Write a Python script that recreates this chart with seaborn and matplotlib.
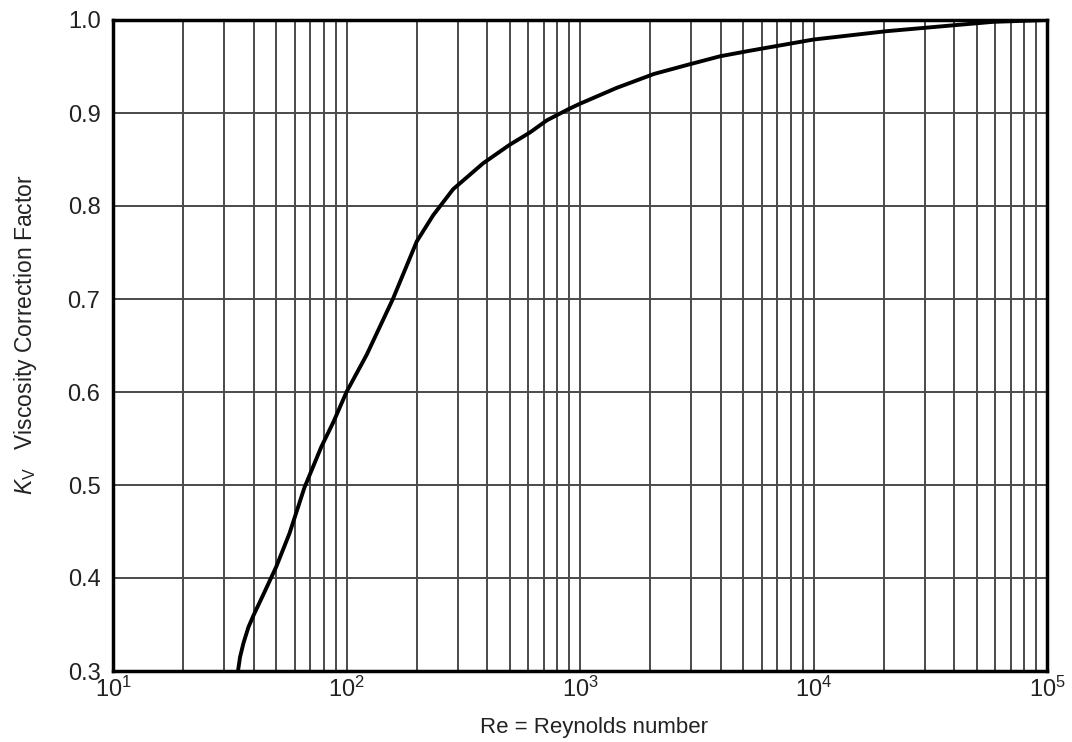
import numpy as np
import pandas as pd
import seaborn as sns
import matplotlib.pyplot as plt
from matplotlib.ticker import LogLocator, FixedLocator, NullFormatter

sns.set_theme(style='white')
plt.rcParams['font.family'] = ['Liberation Sans', 'DejaVu Sans']
plt.rcParams['mathtext.fontset'] = 'custom'
plt.rcParams['mathtext.rm'] = 'Liberation Sans'
plt.rcParams['mathtext.it'] = 'Liberation Sans:italic'

# values
reynolds = [34.3, 35.0, 36.2, 38, 40, 44, 50, 57, 66, 78, 88, 100, 122, 158,
            200, 235, 286, 385, 501, 610, 720, 890, 1000, 1435, 2075, 2910,
            3980, 5350, 10000, 20600, 38500, 58600, 100000]
kv = [0.300, 0.315, 0.330, 0.347, 0.360, 0.382, 0.412, 0.448, 0.497, 0.541,
      0.568, 0.600, 0.640, 0.700, 0.762, 0.790, 0.818, 0.846, 0.866, 0.879,
      0.892, 0.904, 0.910, 0.927, 0.942, 0.952, 0.961, 0.967, 0.979, 0.988,
      0.994, 0.998, 1.000]
y_ticks = [0.3, 0.4, 0.5, 0.6, 0.7, 0.8, 0.9, 1.0]

df = pd.DataFrame({'Re': reynolds, 'Kv': kv})

fig = plt.figure(figsize=(10.72, 7.42), dpi=100)
ax = fig.add_axes([113/1072, 1-671/742, (1047-113)/1072, (671-20)/742])

ax.set_xscale('log')
ax.set_xlim(10, 1e5)
ax.set_ylim(0.3, 1.0)

ax.xaxis.set_major_locator(LogLocator(base=10, numticks=10))
ax.xaxis.set_minor_locator(LogLocator(base=10, subs=np.arange(2, 10), numticks=20))
ax.xaxis.set_minor_formatter(NullFormatter())
ax.yaxis.set_major_locator(FixedLocator(y_ticks))
ax.set_yticklabels([f'{v:.1f}' for v in y_ticks])

ax.grid(True, which='both', axis='x', color='#4a4a4a', lw=1.4)
ax.grid(True, which='major', axis='y', color='#4a4a4a', lw=1.4)
ax.set_axisbelow(True)

sns.lineplot(data=df, x='Re', y='Kv', ax=ax, color='black', lw=2.8, sort=False, zorder=5)

for s in ax.spines.values():
    s.set_color('black')
    s.set_linewidth(2.5)

ax.tick_params(axis='both', which='both', length=0, labelsize=17, colors='#222222')
ax.tick_params(axis='y', pad=9)
ax.tick_params(axis='x', pad=4)
ax.set_xlabel('Re = Reynolds number', fontsize=16, color='#222222')
ax.set_ylabel(r'$K_\mathrm{V}$   Viscosity Correction Factor', fontsize=16.5, color='#222222')
ax.xaxis.set_label_coords(0.515, -0.071)
ax.yaxis.set_label_coords(-0.079, 0.516)

fig.savefig('out.png', dpi=100, facecolor='white')
